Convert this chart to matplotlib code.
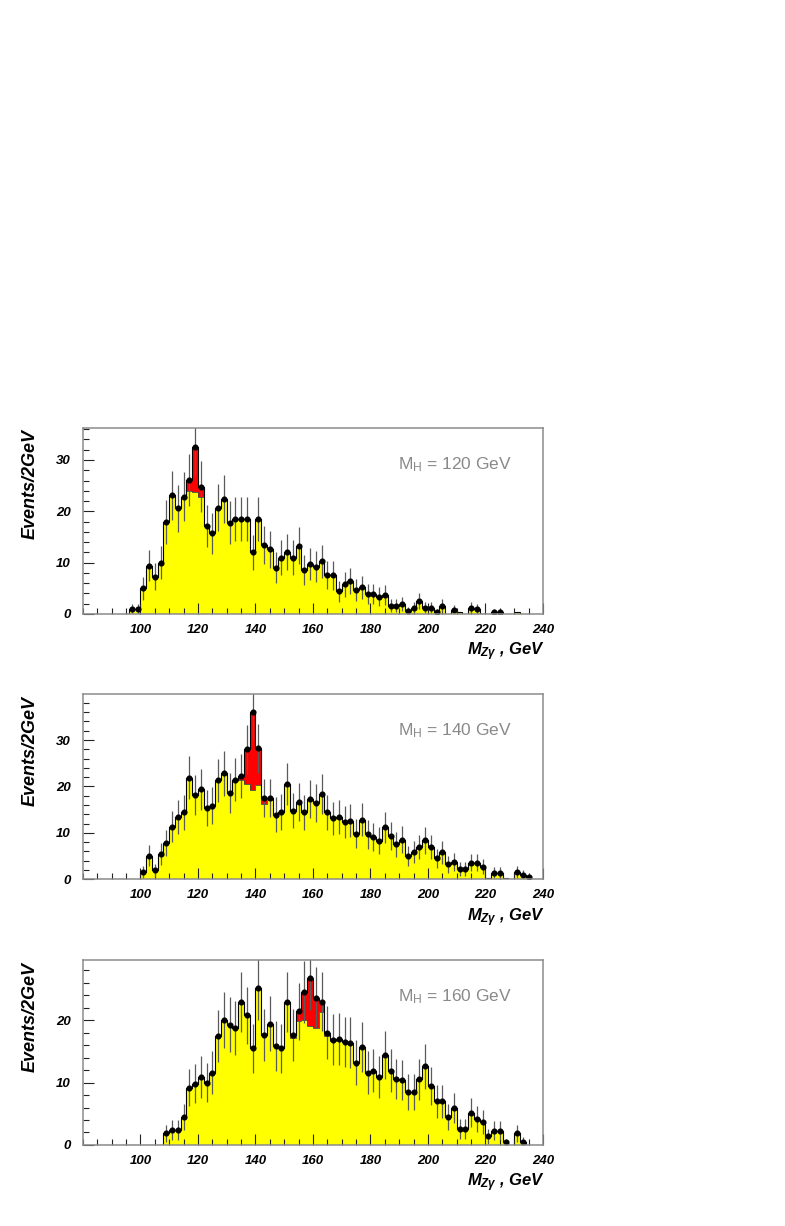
import numpy as np
import matplotlib
matplotlib.use('Agg')
import matplotlib.pyplot as plt
from matplotlib.ticker import MultipleLocator

plt.rcParams['font.family'] = ['Liberation Sans', 'DejaVu Sans']
plt.rcParams['mathtext.fontset'] = 'custom'
plt.rcParams['mathtext.it'] = 'Liberation Sans:bold:italic'
plt.rcParams['mathtext.rm'] = 'Liberation Sans:bold:italic'
plt.rcParams['mathtext.sf'] = 'Liberation Sans'

# 2 GeV bins from 80 to 240
edges = np.arange(80, 242, 2)
centers = edges[:-1] + 1

# events per bin (signal + background), read bin by bin
tot_120 = [0, 0, 0, 0, 0, 0, 0, 0,
           0.9, 0.9, 5.0, 9.4, 7.3, 10.0, 17.9, 23.1, 20.6, 22.8,
           26.1, 32.6, 24.8, 17.1, 15.7, 20.7, 22.4, 17.8, 18.5, 18.5,
           18.5, 12.0, 18.5, 13.5, 12.6, 9.0, 11.0, 12.1, 11.0, 13.3,
           8.5, 9.7, 9.2, 10.3, 7.6, 7.5, 4.4, 5.8, 6.5, 4.7,
           5.2, 3.9, 3.8, 3.4, 3.7, 1.6, 1.6, 1.9, 0.6, 1.2,
           2.5, 1.2, 1.2, 0.4, 1.6, 0, 0.8, 0.3, 0, 1.2,
           0.9, 0, 0, 0.4, 0.4, 0, 0, 0.3, 0, 0, 0, 0]
tot_140 = [0, 0, 0, 0, 0, 0, 0, 0, 0, 0,
           1.6, 5.1, 1.9, 5.4, 7.8, 11.3, 13.4, 14.4, 21.9, 18.2,
           19.4, 15.3, 15.8, 21.3, 22.8, 18.6, 21.4, 22.3, 28.0, 36.0,
           28.2, 17.5, 17.5, 13.9, 14.5, 20.6, 14.8, 16.7, 14.4, 17.3,
           16.5, 18.4, 14.4, 13.1, 13.5, 12.3, 12.6, 9.8, 12.8, 9.7,
           9.1, 8.3, 11.2, 9.3, 7.5, 8.5, 5.0, 5.9, 7.0, 8.4,
           6.9, 4.5, 5.8, 3.2, 3.8, 2.2, 2.2, 3.6, 3.6, 2.7,
           0.2, 1.4, 1.4, 0.3, 0, 1.6, 1.0, 0.4, 0, 0]
tot_160 = [0, 0, 0, 0, 0, 0, 0, 0, 0, 0, 0, 0, 0, 0,
           1.9, 2.4, 2.4, 4.5, 9.2, 9.8, 10.9, 10.0, 11.6, 17.5,
           20.0, 19.3, 18.7, 22.9, 20.8, 15.5, 25.1, 17.6, 19.4, 15.9,
           15.5, 22.9, 17.6, 21.4, 24.5, 26.8, 23.6, 23.0, 18.0, 16.9,
           17.0, 16.5, 16.4, 13.2, 15.7, 11.6, 11.9, 10.9, 14.4, 11.9,
           10.6, 10.4, 8.5, 8.5, 10.5, 12.6, 9.4, 7.0, 7.0, 4.5,
           5.9, 2.6, 2.6, 5.2, 4.2, 3.7, 1.4, 2.3, 2.3, 0.4,
           0, 1.9, 0.5, 0, 0, 0]

# Higgs signal part (bin centre, events)
sig_120_at = [117, 119, 121]
sig_120 = [2.1, 8.8, 2.1]
sig_140_at = [135, 137, 139, 141, 143, 145]
sig_140 = [0.9, 7.5, 16.8, 7.8, 1.3, 0.5]
sig_160_at = [153, 155, 157, 159, 161, 163, 165, 167]
sig_160 = [0.4, 1.5, 4.5, 7.7, 4.9, 1.7, 0.5, 0.3]

masses = ['120', '140', '160']
x_ticks = [100, 120, 140, 160, 180, 200, 220, 240]


def draw_panel(ax, total, sig_at, sig, mh, ymax, yticks):
    total = np.array(total, dtype=float)
    bkg = total.copy()
    idx = (np.array(sig_at) - 81) // 2
    bkg[idx] -= np.array(sig)

    ax.stairs(bkg, edges, fill=True, color='#ffff00', lw=0)
    ax.stairs(total, edges, baseline=bkg, fill=True, color='#ff0000', lw=0)
    ax.stairs(bkg, edges, color='#444444', lw=0.6)
    ax.stairs(total, edges, color='black', lw=0.8)

    m = total > 0.35
    ax.errorbar(centers[m], total[m], yerr=np.sqrt(total[m]), fmt='none',
                ecolor='#5a5a5a', elinewidth=0.9)
    ax.plot(centers[m], total[m], 'o', color='black', ms=3.4)

    ax.set_xlim(80, 240)
    ax.set_ylim(0, ymax)
    ax.set_xticks(x_ticks, [str(t) for t in x_ticks], fontsize=9.5,
                  fontweight='bold', fontstyle='italic')
    ax.set_yticks(yticks, [str(t) for t in yticks], fontsize=9.5,
                  fontweight='bold', fontstyle='italic')
    ax.xaxis.set_minor_locator(MultipleLocator(5))
    ax.yaxis.set_minor_locator(MultipleLocator(2))
    ax.tick_params(which='both', direction='in', top=False, right=False,
                   color='#222222', width=0.8)
    ax.tick_params(which='major', length=8)
    ax.tick_params(which='minor', length=4)
    ax.tick_params(axis='x', pad=7)
    ax.tick_params(axis='y', pad=9)
    for s in ax.spines.values():
        s.set_color('#8c8c8c')
        s.set_linewidth(1.1)

    ax.text(0.685, 0.80, 'M$_{\\mathsf{H}}$ = ' + mh + ' GeV', transform=ax.transAxes,
            fontsize=12.5, color='#8a8a8a', ha='left', va='center')
    ax.text(-0.115, 0.99, 'Events/2GeV', transform=ax.transAxes, rotation=90,
            fontsize=13, fontweight='bold', fontstyle='italic',
            ha='center', va='top')
    ax.text(1.005, -0.205, r'$M_{Z\gamma}$ , GeV', transform=ax.transAxes,
            fontsize=12, fontweight='bold', fontstyle='italic',
            ha='right', va='center')


fig = plt.figure(figsize=(7.85, 12.26), dpi=100)
ax1 = fig.add_axes([0.1057, 0.4992, 0.586, 0.152])
ax2 = fig.add_axes([0.1057, 0.2828, 0.586, 0.1511])
ax3 = fig.add_axes([0.1057, 0.0661, 0.586, 0.1511])

draw_panel(ax1, tot_120, sig_120_at, sig_120, masses[0], 36.3, [0, 10, 20, 30])
draw_panel(ax2, tot_140, sig_140_at, sig_140, masses[1], 39.9, [0, 10, 20, 30])
draw_panel(ax3, tot_160, sig_160_at, sig_160, masses[2], 29.7, [0, 10, 20])

fig.savefig('out.png', dpi=100)
